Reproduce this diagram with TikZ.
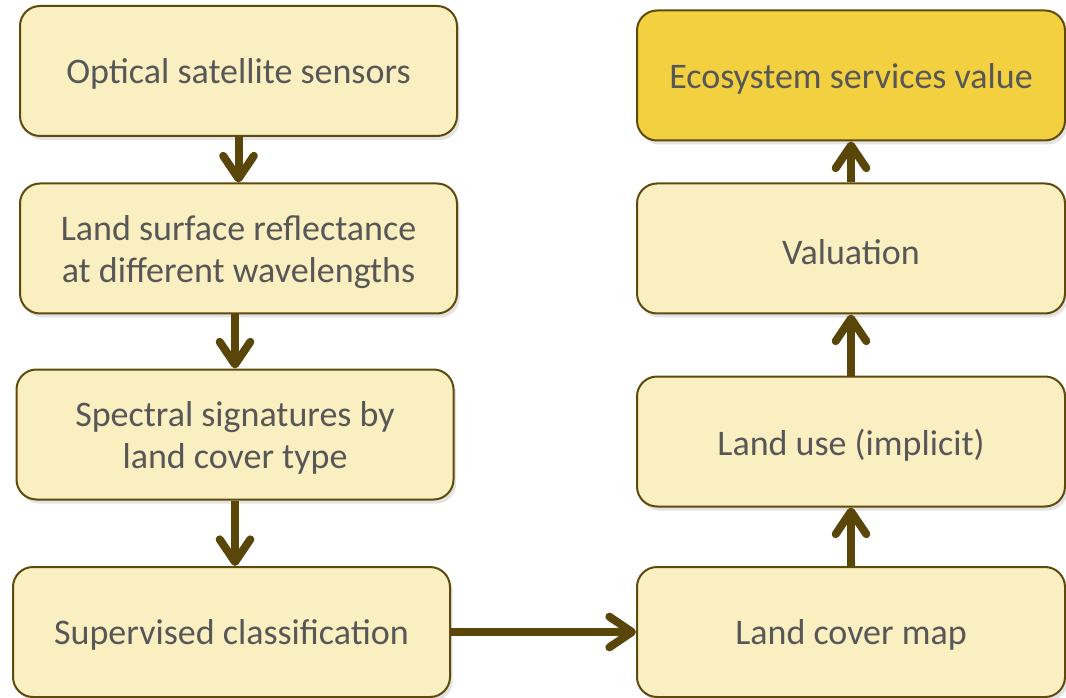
\documentclass[tikz,border=0pt]{standalone}
\usepackage{fontspec}
\setmainfont{Carlito}
\usetikzlibrary{positioning,shapes,arrows.meta,shadows}
\usepackage{xcolor}
\definecolor{boxfill}{HTML}{FAEFC0}
\definecolor{valfill}{HTML}{F2D03F}
\definecolor{boxline}{HTML}{5E4B0C}
\definecolor{arrowc}{HTML}{594608}
\definecolor{txt}{HTML}{575757}
% set a line of box text a little lower, keeping its size
\newcommand{\low}[1]{\raisebox{-2.5pt}[\height][\depth]{#1}}

\begin{document}
\begin{tikzpicture}[x=0.75pt,y=-0.75pt,
    f/.style={-{Straight Barb[length=17pt,width=23pt,line cap=round,line join=round]},line width=6pt,draw=arrowc},%
    s/.style={draw=boxline,line width=1.5pt,fill=boxfill,rounded corners=15pt,
      minimum height=97.5pt,text=txt,align=center,
      font=\fontsize{27}{31.5}\selectfont,
      drop shadow={opacity=0.22,shadow xshift=2pt,shadow yshift=-3pt}},%
    l/.style={s,minimum width=327.75pt},%
    r/.style={s,minimum width=321pt}]
    \useasboundingbox (0,0) rectangle (1066,698);
    % left column, top to bottom
    \node[l] (Opt) at (238.5,71) {\low{Optical satellite sensors}} ;
    \node[l] (Refl) at (238.5,248.5) {\low{Land surface reflectance}\\\low{at different wavelengths}} ;
    \node[l] (Spec) at (235,434.5) {\low{Spectral signatures by}\\\low{land cover type}} ;
    \node[l] (Class) at (231.5,632) {\low{Supervised classification}} ;
    % right column, bottom to top
    \node[r] (Map) at (851,632) {\low{Land cover map}} ;
    \node[r] (Use) at (851,441.5) {\low{Land use (implicit)}} ;
    \node[r] (Val) at (851,248.5) {\low{Valuation}} ;
    \node[r,fill=valfill] (ESV) at (851,75.5) {\low{Ecosystem services value}} ;
    \draw[f] (Opt) -- (Refl) ;
    \draw[f] (Refl.south -| Spec) -- (Spec.north) ;
    \draw[f] (Spec.south) -- (Spec.south |- Class.north) ;
    \draw[f] (Class) -- (Map) ;
    \draw[f] (Map) -- (Use) ;
    \draw[f] (Use) -- (Val) ;
    \draw[f] (Val) -- (ESV) ;
    \end{tikzpicture}
\end{document}
